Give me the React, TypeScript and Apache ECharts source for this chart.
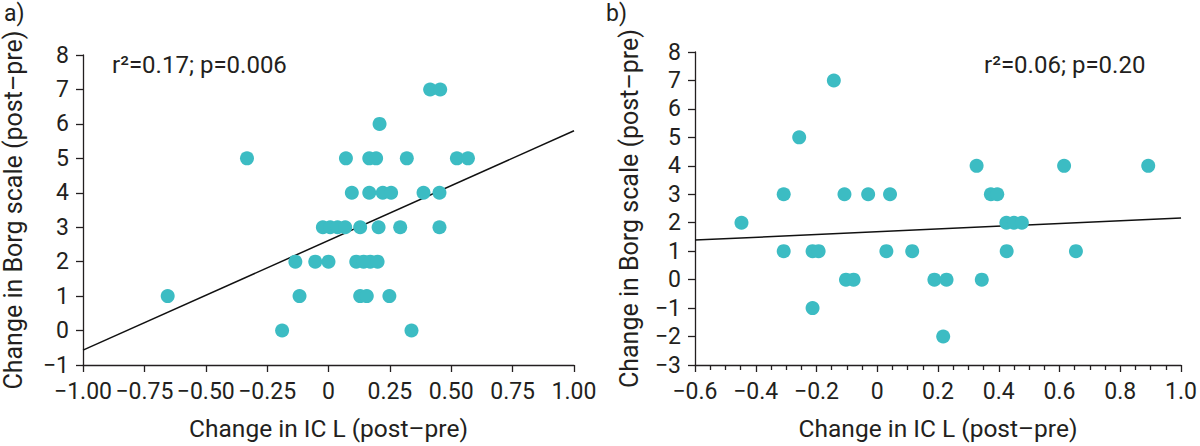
import React, { useEffect, useRef } from "react";
import * as echarts from "echarts";

// Panel a: change in IC (L) vs change in Borg scale
const aX = [
  -0.655, -0.332, -0.189, 0.338,
  -0.118, 0.129, 0.156, 0.248,
  -0.135, -0.054, 0.0, 0.113, 0.143, 0.17, 0.2,
  -0.023, 0.007, 0.037, 0.068, 0.129, 0.204, 0.292, 0.452,
  0.095, 0.166, 0.221, 0.255, 0.387, 0.452,
  0.071, 0.166, 0.194, 0.319, 0.523, 0.568,
  0.208,
  0.414, 0.455,
];
const aY = [
  1, 5, 0, 0,
  1, 1, 1, 1,
  2, 2, 2, 2, 2, 2, 2,
  3, 3, 3, 3, 3, 3, 3, 3,
  4, 4, 4, 4, 4, 4,
  5, 5, 5, 5, 5, 5,
  6,
  7, 7,
];
const aFit = [
  [-1, -0.57],
  [1, 5.8],
];

// Panel b
const bX = [
  -0.447, -0.308, -0.308, -0.257, -0.213, -0.213, -0.193, -0.143,
  -0.108, -0.103, -0.078, -0.03, 0.03, 0.042, 0.115, 0.188,
  0.228, 0.217, 0.327, 0.344, 0.374, 0.395, 0.425, 0.45,
  0.476, 0.426, 0.615, 0.654, 0.892,
];
const bY = [
  2, 3, 1, 5, -1, 1, 1, 7,
  3, 0, 0, 3, 1, 3, 1, 0,
  0, -2, 4, 0, 3, 3, 2, 2,
  2, 1, 4, 1, 4,
];
const bFit = [
  [-0.6, 1.39],
  [1.0, 2.17],
];

const aXTicks = { min: -1, max: 1, step: 0.25 };
const aYTicks = { min: -1, max: 8, step: 1 };
const bXTicks = { min: -0.6, max: 1.0, step: 0.2 };
const bYTicks = { min: -3, max: 8, step: 1 };

const xName = "Change in IC L (post–pre)";
const yName = "Change in Borg scale (post–pre)";
const annoA = "r²=0.17; p=0.006";
const annoB = "r²=0.06; p=0.20";

const FONT = "Roboto";
const INK = "#231f20";
const TEAL = "#3cbcc3";

const fmt = (dec: number) => (v: number) => {
  if (Math.abs(v) < 1e-9) return "0";
  const s = Math.abs(v).toFixed(dec);
  return (v < 0 ? "−" : "") + s;
};

function xAxis(idx: number, t: any, dec: number, minor: boolean) {
  return {
    type: "value",
    gridIndex: idx,
    min: t.min,
    max: t.max,
    interval: t.step,
    name: xName,
    nameLocation: "middle",
    nameGap: 51,
    nameTextStyle: { fontFamily: FONT, fontSize: 24.5, color: INK },
    axisLine: { show: true, onZero: false, lineStyle: { color: INK, width: 1.3 } },
    axisTick: { show: true, length: 7, lineStyle: { color: INK, width: 1.3 } },
    minorTick: { show: minor, splitNumber: 4, length: 5, lineStyle: { color: INK, width: 1.3 } },
    splitLine: { show: false },
    minorSplitLine: { show: false },
    axisLabel: {
      fontFamily: FONT,
      fontSize: 23,
      color: INK,
      margin: 15,
      formatter: fmt(dec),
      showMinLabel: true,
      showMaxLabel: true,
    },
  };
}

function yAxis(idx: number, t: any, gap: number) {
  return {
    type: "value",
    gridIndex: idx,
    min: t.min,
    max: t.max,
    interval: t.step,
    name: yName,
    nameLocation: "middle",
    nameGap: gap,
    nameTextStyle: { fontFamily: FONT, fontSize: 25, color: INK },
    axisLine: { show: true, onZero: false, lineStyle: { color: INK, width: 1.3 } },
    axisTick: { show: true, length: 7, lineStyle: { color: INK, width: 1.3 } },
    splitLine: { show: false },
    axisLabel: {
      fontFamily: FONT,
      fontSize: 23,
      color: INK,
      margin: 14,
      formatter: fmt(0),
    },
  };
}

const zip = (xs: number[], ys: number[]) => xs.map((x, i) => [x, ys[i]]);

export default function App() {
  const ref = useRef<HTMLDivElement>(null);
  useEffect(() => {
    if (!ref.current) return;
    const chart = echarts.init(ref.current, undefined, { renderer: "svg" });
    chart.setOption({
      animation: false,
      backgroundColor: "#ffffff",
      grid: [
        { left: 82, top: 55, width: 492, height: 312 },
        { left: 695, top: 52, width: 489, height: 316 },
      ],
      xAxis: [xAxis(0, aXTicks, 2, false), xAxis(1, bXTicks, 1, true)],
      yAxis: [yAxis(0, aYTicks, 57), yAxis(1, bYTicks, 53)],
      series: [
        {
          type: "line",
          xAxisIndex: 0,
          yAxisIndex: 0,
          data: aFit,
          symbol: "none",
          lineStyle: { color: "#111", width: 1.5 },
          z: 1,
        },
        {
          type: "scatter",
          xAxisIndex: 0,
          yAxisIndex: 0,
          data: zip(aX, aY),
          symbolSize: 14,
          itemStyle: { color: TEAL, opacity: 1 },
          z: 2,
        },
        {
          type: "line",
          xAxisIndex: 1,
          yAxisIndex: 1,
          data: bFit,
          symbol: "none",
          lineStyle: { color: "#111", width: 1.5 },
          z: 1,
        },
        {
          type: "scatter",
          xAxisIndex: 1,
          yAxisIndex: 1,
          data: zip(bX, bY),
          symbolSize: 14,
          itemStyle: { color: TEAL, opacity: 1 },
          z: 2,
        },
      ],
      graphic: [
        { type: "text", left: 4, top: 2, style: { text: "a)", fontFamily: FONT, fontSize: 23, fill: INK } },
        { type: "text", left: 606, top: 2, style: { text: "b)", fontFamily: FONT, fontSize: 23, fill: INK } },
        { type: "text", left: 112, top: 53, style: { text: annoA, fontFamily: FONT, fontSize: 24, fill: INK } },
        { type: "text", left: 984, top: 53, style: { text: annoB, fontFamily: FONT, fontSize: 24, fill: INK } },
      ],
    });
    return () => chart.dispose();
  }, []);
  return (
    <div
      ref={ref}
      style={{ position: "fixed", left: 0, top: 0, width: 1200, height: 446, background: "#fff" }}
    />
  );
}
